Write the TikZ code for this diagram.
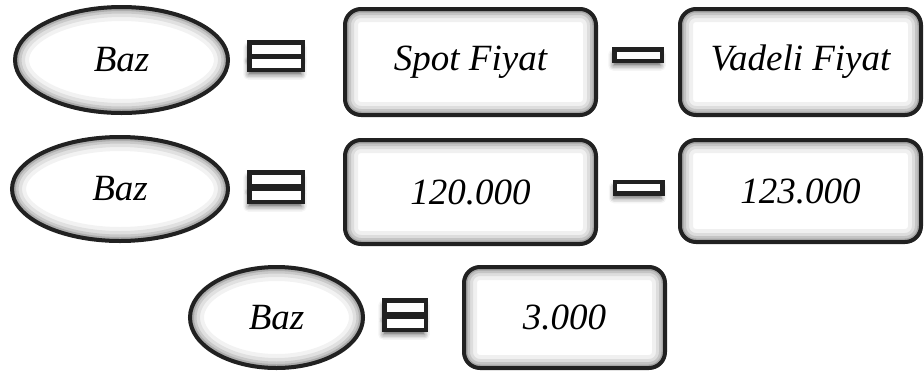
\documentclass[tikz,border=0pt]{standalone}
\usepackage{fontspec}
\newfontfamily\tnrit{Liberation Serif Italic}
\usetikzlibrary{shapes.geometric,shadows.blur,calc}
\tikzset{
  base/.style={draw=black!87, line width=4pt, font=\fontsize{37}{40}\selectfont\tnrit, inner sep=0pt, fill=white},
  ovalnode/.style={base, ellipse, path picture={
    \foreach \w/\o in {28/0.05,20/0.07,13/0.1,8/0.14,4/0.2}{
      \draw[black, opacity=\o, line width=\w pt]
        let \p1=(path picture bounding box.north east), \p2=(path picture bounding box.center)
        in (\p2) ellipse [x radius=\x1-\x2, y radius=\y1-\y2];}}},
  boxnode/.style={base, rectangle, rounded corners=16pt, path picture={
    \foreach \w/\o in {26/0.06,18/0.08,12/0.11,7/0.15,3/0.22}{
      \draw[black, opacity=\o, line width=\w pt, rounded corners=16pt]
        (path picture bounding box.south west) rectangle (path picture bounding box.north east);}}},
  barnode/.style={draw=black!87, line width=4.5pt, fill=white, rectangle, inner sep=0pt,
    blur shadow={shadow xshift=-1pt, shadow yshift=-5pt, shadow blur radius=5pt, shadow opacity=60}},
}
\begin{document}
\begin{tikzpicture}[x=1pt,y=-1pt]
\useasboundingbox (0,0) rectangle (924,373);
% row 1
\node[ovalnode, minimum width=213pt, minimum height=106pt] (baz1) at (121.5,60) {Baz};
\node[barnode, minimum width=53.5pt, minimum height=13.5pt] (eq1a) at (276,49) {};
\node[barnode, minimum width=53.5pt, minimum height=13.5pt] (eq1b) at (276,63) {};
\node[boxnode, minimum width=251pt, minimum height=106pt] (spot) at (470.5,62) {Spot Fiyat};
\node[barnode, minimum width=47.5pt, minimum height=11.5pt] (mi1) at (638,55) {};
\node[boxnode, minimum width=241pt, minimum height=106pt] (vadeli) at (800.5,62) {Vadeli Fiyat};
% row 2
\node[ovalnode, minimum width=216pt, minimum height=104pt] (baz2) at (120,189) {Baz};
\node[barnode, minimum width=53.5pt, minimum height=13.5pt] (eq2a) at (276,179) {};
\node[barnode, minimum width=53.5pt, minimum height=13.5pt] (eq2b) at (276,195) {};
\node[boxnode, minimum width=251pt, minimum height=104pt] (spotv) at (470.5,192) {120.000};
\node[barnode, minimum width=47.5pt, minimum height=11.5pt] (mi2) at (638.5,187.5) {};
\node[boxnode, minimum width=241pt, minimum height=102pt] (vadeliv) at (800.5,191) {123.000};
% row 3
\node[ovalnode, minimum width=173pt, minimum height=101pt] (baz3) at (276.5,317.5) {Baz};
\node[barnode, minimum width=41.5pt, minimum height=13.5pt] (eq3a) at (405,307) {};
\node[barnode, minimum width=41.5pt, minimum height=13.5pt] (eq3b) at (405,323) {};
\node[boxnode, minimum width=201pt, minimum height=101pt] (sonuc) at (564.5,317.5) {3.000};
\end{tikzpicture}
\end{document}
